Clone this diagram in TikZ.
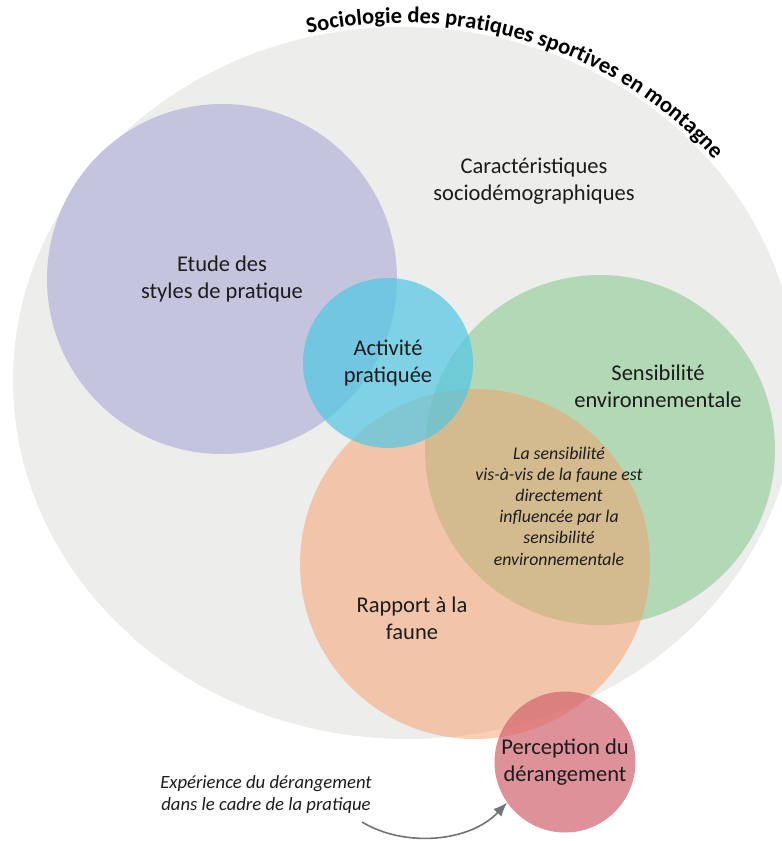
\documentclass[tikz,border=0pt]{standalone}
\usepackage{fontspec}
\setmainfont{Carlito}
\usepackage{xcolor}
\usepackage{tikz}
\usetikzlibrary{arrows.meta,decorations.text}
\definecolor{fondgris}{RGB}{237,237,236}
\definecolor{cpurple}{RGB}{196,196,222}
\definecolor{cgreen}{RGB}{178,216,181}
\definecolor{cpeach}{RGB}{247,159,107}
\definecolor{cblue}{RGB}{81,199,228}
\definecolor{cred}{RGB}{210,99,109}
\definecolor{ctext}{RGB}{28,28,28}
\definecolor{carrow}{RGB}{112,116,116}

\begin{document}
\begin{tikzpicture}[x=1pt, y=1pt, >=Latex,
    blob/.style={circle, inner sep=0pt, align=center, text=ctext, text opacity=1, font=\fontsize{22.5}{27}\selectfont},
    lbl/.style={align=center, text=ctext, font=\fontsize{22.5}{27}\selectfont},
    note/.style={align=center, text=ctext, font=\itshape\fontsize{17.8}{21.2}\selectfont}]
    \clip[use as bounding box] (0,0) rectangle (782,-841);
    \begin{scope}[shift={(405,-383)}, rotate=-2]
        \fill[fondgris] (0,0) ellipse [x radius=392, y radius=356];
        \path[decorate, decoration={text along path, text color=black,
            text={|\fontsize{22.5}{22.5}\selectfont\bfseries|Sociologie des pratiques sportives en montagne}}]
            (106:396 and 360) arc[start angle=106, end angle=5, x radius=396, y radius=360];
    \end{scope}
    \node[blob, fill=cpurple, minimum size=350pt] (etude) at (222,-279) {Etude des\\styles de pratique};
    \node[blob, fill=cgreen, minimum size=350pt] (sensib) at (600,-450) {};
    \node[blob, fill=cpeach, fill opacity=0.5, minimum size=350pt] (faune) at (475,-564) {};
    \node[blob, fill=cblue, fill opacity=0.7, minimum size=170pt] (activite) at (388,-363) {Activité\\pratiquée};
    \node[blob, fill=cred, fill opacity=0.7, minimum size=141pt] (percep) at (565,-762) {Perception du\\dérangement};
    \node[lbl] (caract) at (534,-181) {Caractéristiques\\sociodémographiques};
    \node[lbl] (sensiblbl) at (658,-386) {Sensibilité\\environnementale};
    \node[lbl] (faunelbl) at (412,-618) {Rapport à la\\faune};
    \node[note] (influence) at (559,-506) {La sensibilité\\vis-à-vis de la faune est\\directement\\influencée par la\\sensibilité\\environnementale};
    \node[note, font=\itshape\fontsize{18.7}{22}\selectfont] (experience) at (266,-795) {Expérience du dérangement\\dans le cadre de la pratique};
    \coordinate (expend) at (362,-822);
    \draw[->, carrow, line width=1.6pt, -{Latex[length=14pt, width=11pt]}] (expend) .. controls (405,-848) and (470,-842) .. (percep.215);
\end{tikzpicture}
\end{document}
